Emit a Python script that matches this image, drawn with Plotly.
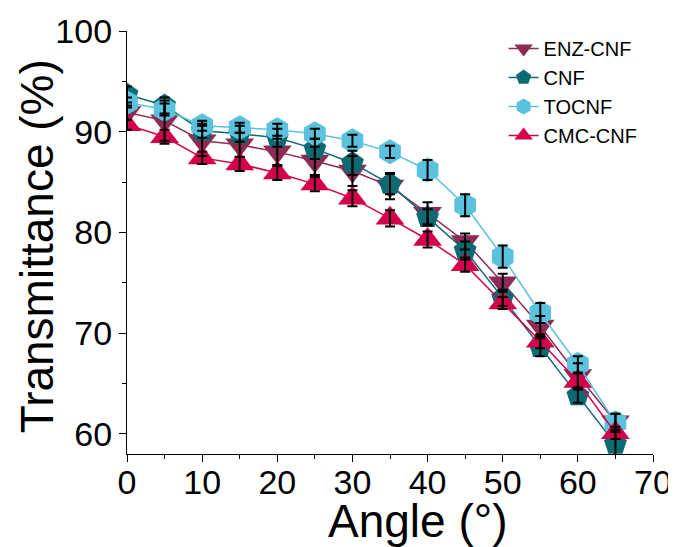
import plotly.graph_objects as go

angle = [0, 5, 10, 15, 20, 25, 30, 35, 40, 45, 50, 55, 60, 65]

enz = [91.9, 91.1, 89.1, 88.7, 88.0, 87.1, 86.1, 84.6, 81.9, 79.1, 75.0, 70.7, 65.8, 61.2]
cnf = [93.7, 92.6, 90.1, 89.8, 89.4, 88.3, 86.9, 84.8, 81.5, 78.2, 73.5, 68.6, 63.8, 59.0]
tocnf = [92.9, 92.2, 90.6, 90.4, 90.2, 89.8, 89.1, 88.0, 86.2, 82.7, 77.6, 72.0, 66.9, 61.1]
cmc = [90.7, 89.5, 87.4, 86.8, 85.9, 84.8, 83.4, 81.4, 79.3, 76.8, 73.0, 69.2, 65.2, 60.1]

enz_err = [0.7, 2.0, 1.5, 1.2, 1.3, 1.4, 1.5, 1.3, 1.1, 0.8, 0.9, 1.0, 1.2, 0.8]
cnf_err = [0.8, 0.8, 0.7, 0.8, 0.9, 1.0, 1.2, 1.0, 0.8, 0.9, 0.8, 0.9, 0.7, 1.2]
tocnf_err = [0.5, 0.6, 0.5, 0.5, 0.6, 0.5, 0.6, 0.6, 1.0, 1.1, 1.1, 1.0, 0.8, 0.9]
cmc_err = [0.5, 0.7, 0.6, 0.7, 0.7, 0.7, 0.8, 0.8, 0.8, 0.7, 0.6, 0.7, 0.8, 0.6]

names = ["ENZ-CNF", "CNF", "TOCNF", "CMC-CNF"]
series = [enz, cnf, tocnf, cmc]
errors = [enz_err, cnf_err, tocnf_err, cmc_err]
colors = ["#8E2B55", "#0B6A72", "#5BC2DD", "#D5004C"]
symbols = ["triangle-down", "pentagon", "hexagon", "triangle-up"]
sizes = [25, 24, 25, 25]

FONT = "Arial, Liberation Sans, sans-serif"

fig = go.Figure()
for name, y, c, s, sz in zip(names, series, colors, symbols, sizes):
    fig.add_trace(go.Scatter(
        x=angle, y=y, name=name, mode="lines+markers",
        line=dict(color=c, width=1.5),
        marker=dict(symbol=s, size=sz, color=c, line=dict(width=0)),
    ))
# error bars drawn on top of all markers
for y, e in zip(series, errors):
    fig.add_trace(go.Scatter(
        x=angle, y=y, mode="markers", showlegend=False, hoverinfo="skip",
        marker=dict(size=1, color="rgba(0,0,0,0)"),
        error_y=dict(type="data", array=e, visible=True, color="black",
                     thickness=2, width=5),
    ))

# the page body adds an 8px offset, so the figure is 8px smaller
fig.update_layout(
    width=668, height=539,
    margin=dict(l=119, r=23, t=23, b=93),
    plot_bgcolor="white", paper_bgcolor="white",
    font=dict(family=FONT, color="black"),
    showlegend=True,
    legend=dict(x=0.716, y=1.005, xanchor="left", yanchor="top",
                font=dict(size=20, family=FONT), bgcolor="rgba(0,0,0,0)",
                tracegroupgap=0, itemsizing="trace"),
    xaxis=dict(range=[0, 70], tickvals=[0, 10, 20, 30, 40, 50, 60, 70],
               automargin=False, ticklabelstandoff=-9,
               showline=True, linecolor="black", linewidth=1.3,
               ticks="outside", ticklen=7, tickwidth=1.3, tickcolor="black",
               minor=dict(ticks="outside", ticklen=4, tickwidth=1.3,
                          tickcolor="black", dtick=5, tick0=0),
               showgrid=False, zeroline=False,
               tickfont=dict(size=34, family=FONT)),
    yaxis=dict(range=[58, 100], tickvals=[60, 70, 80, 90, 100],
               automargin=False,
               showline=True, linecolor="black", linewidth=1.3,
               ticks="outside", ticklen=7, tickwidth=1.3, tickcolor="black",
               minor=dict(ticks="outside", ticklen=4, tickwidth=1.3,
                          tickcolor="black", dtick=5, tick0=0),
               showgrid=False, zeroline=False,
               tickfont=dict(size=34, family=FONT)),
    annotations=[
        dict(text="Angle (°)", xref="paper", yref="paper", x=0.552, y=-0.158,
             xanchor="center", yanchor="middle", showarrow=False,
             font=dict(size=46, family=FONT)),
        dict(text="Transmittance (%)", xref="paper", yref="paper", x=-0.172,
             y=0.49, xanchor="center", yanchor="middle", textangle=-90,
             showarrow=False, font=dict(size=46, family=FONT)),
    ],
)

fig.write_html("out.html")
